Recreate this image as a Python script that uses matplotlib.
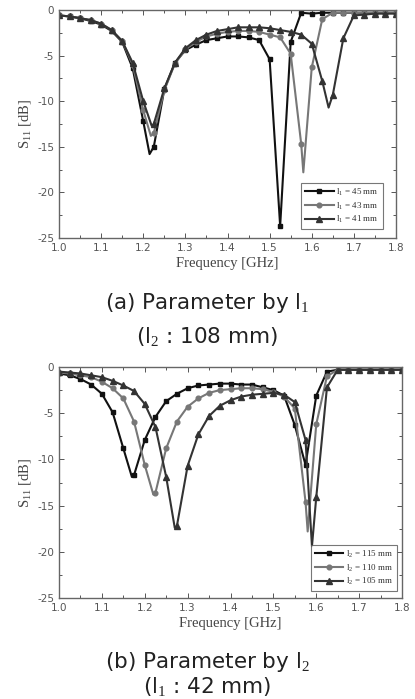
import matplotlib
matplotlib.use("Agg")
import matplotlib.pyplot as plt
import numpy as np
from matplotlib.ticker import MultipleLocator

# ---------------- data (a): parameter by l1 ----------------
freq_a45 = [1.0, 1.025, 1.05, 1.075, 1.1, 1.125, 1.15, 1.175, 1.2, 1.215, 1.225, 1.25, 1.275, 1.3,
            1.325, 1.35, 1.375, 1.4, 1.425, 1.45, 1.475, 1.5, 1.525, 1.55, 1.575, 1.6, 1.625, 1.65,
            1.675, 1.7, 1.725, 1.75, 1.775, 1.8]
s11_a45 = [-0.6, -0.7, -0.9, -1.2, -1.6, -2.3, -3.5, -6.4, -12.2, -15.8, -15.0, -8.7, -5.8, -4.4,
           -3.8, -3.3, -3.1, -2.9, -2.9, -3.0, -3.3, -5.4, -23.7, -3.5, -0.3, -0.4, -0.3, -0.3,
           -0.3, -0.3, -0.3, -0.3, -0.3, -0.3]

freq_a43 = [1.0, 1.025, 1.05, 1.075, 1.1, 1.125, 1.15, 1.175, 1.2, 1.218, 1.225, 1.25, 1.275, 1.3,
            1.325, 1.35, 1.375, 1.4, 1.425, 1.45, 1.475, 1.5, 1.525, 1.55, 1.575, 1.58, 1.6, 1.625,
            1.65, 1.675, 1.7, 1.725, 1.75, 1.775, 1.8]
s11_a43 = [-0.6, -0.7, -0.9, -1.1, -1.5, -2.2, -3.4, -6.0, -11.0, -13.8, -13.5, -8.8, -5.9, -4.3,
           -3.5, -2.9, -2.6, -2.4, -2.3, -2.3, -2.4, -2.7, -3.0, -4.8, -14.7, -17.8, -6.3, -1.0,
           -0.3, -0.3, -0.3, -0.3, -0.3, -0.3, -0.3]

freq_a41 = [1.0, 1.025, 1.05, 1.075, 1.1, 1.125, 1.15, 1.175, 1.2, 1.22, 1.225, 1.25, 1.275, 1.3,
            1.325, 1.35, 1.375, 1.4, 1.425, 1.45, 1.475, 1.5, 1.525, 1.55, 1.575, 1.6, 1.625, 1.64,
            1.65, 1.675, 1.7, 1.725, 1.75, 1.775, 1.8]
s11_a41 = [-0.6, -0.7, -0.9, -1.1, -1.5, -2.2, -3.4, -5.8, -10.0, -12.7, -12.5, -8.6, -5.8, -4.2,
           -3.3, -2.7, -2.3, -2.1, -1.9, -1.9, -1.9, -2.0, -2.2, -2.4, -2.7, -3.7, -7.8, -10.7,
           -9.3, -3.1, -0.6, -0.5, -0.4, -0.4, -0.4]

labels_a = ["l$_1$ = 45 mm", "l$_1$ = 43 mm", "l$_1$ = 41 mm"]

# ---------------- data (b): parameter by l2 ----------------
freq_b115 = [1.0, 1.025, 1.05, 1.075, 1.1, 1.125, 1.15, 1.17, 1.175, 1.2, 1.225, 1.25, 1.275, 1.3,
             1.325, 1.35, 1.375, 1.4, 1.425, 1.45, 1.475, 1.5, 1.525, 1.55, 1.575, 1.6, 1.625, 1.65,
             1.675, 1.7, 1.725, 1.75, 1.775, 1.8]
s11_b115 = [-0.7, -0.9, -1.3, -1.9, -2.9, -4.9, -8.8, -11.9, -11.7, -7.9, -5.4, -3.7, -2.9, -2.3,
            -2.0, -1.9, -1.8, -1.8, -1.9, -1.9, -2.2, -2.5, -3.1, -6.3, -10.6, -3.1, -0.5, -0.3,
            -0.3, -0.3, -0.3, -0.3, -0.3, -0.3]

freq_b110 = [1.0, 1.025, 1.05, 1.075, 1.1, 1.125, 1.15, 1.175, 1.2, 1.22, 1.225, 1.25, 1.275, 1.3,
             1.325, 1.35, 1.375, 1.4, 1.425, 1.45, 1.475, 1.5, 1.525, 1.55, 1.575, 1.58, 1.6, 1.625,
             1.65, 1.675, 1.7, 1.725, 1.75, 1.775, 1.8]
s11_b110 = [-0.6, -0.7, -0.9, -1.1, -1.6, -2.3, -3.4, -5.9, -10.6, -13.8, -13.6, -8.8, -5.9, -4.3,
            -3.4, -2.8, -2.5, -2.4, -2.3, -2.3, -2.4, -2.7, -3.2, -4.5, -14.6, -17.8, -6.2, -1.0,
            -0.3, -0.3, -0.3, -0.3, -0.3, -0.3, -0.3]

freq_b105 = [1.0, 1.025, 1.05, 1.075, 1.1, 1.125, 1.15, 1.175, 1.2, 1.225, 1.25, 1.27, 1.275, 1.3,
             1.325, 1.35, 1.375, 1.4, 1.425, 1.45, 1.475, 1.5, 1.525, 1.55, 1.575, 1.59, 1.6, 1.625,
             1.65, 1.675, 1.7, 1.725, 1.75, 1.775, 1.8]
s11_b105 = [-0.5, -0.6, -0.7, -0.9, -1.1, -1.5, -2.0, -2.6, -4.0, -6.5, -11.9, -17.4, -17.2, -10.7,
            -7.3, -5.3, -4.2, -3.6, -3.2, -3.0, -2.9, -2.8, -3.0, -3.8, -7.9, -19.4, -14.1, -2.2,
            -0.3, -0.3, -0.3, -0.3, -0.3, -0.3, -0.3]

labels_b = ["l$_2$ = 115 mm", "l$_2$ = 110 mm", "l$_2$ = 105 mm"]

captions_a = ["(a) Parameter by l$_1$", "(l$_2$ : 108 mm)"]
captions_b = ["(b) Parameter by l$_2$", "(l$_1$ : 42 mm)"]

x_ticks = [1.0, 1.1, 1.2, 1.3, 1.4, 1.5, 1.6, 1.7, 1.8]
y_ticks = [0, -5, -10, -15, -20, -25]

# ---------------- styling ----------------
W, H = 415, 699
fig = plt.figure(figsize=(W / 100, H / 100), dpi=100)
plt.rcParams['mathtext.fontset'] = 'custom'
plt.rcParams['mathtext.rm'] = 'Liberation Serif'

styles = [dict(color="#111111", marker="s", ms=3.4),
          dict(color="#777777", marker="o", ms=3.4),
          dict(color="#333333", marker="^", ms=3.8)]


def grid_mask(fr):
    return [abs(round(f / 0.025) * 0.025 - f) < 1e-6 for f in fr]


def draw(ax, series, labels, legend_box):
    for (fr, s), lab, st in zip(series, labels, styles):
        ax.plot(fr, s, color=st["color"], lw=1.5, marker=st["marker"], ms=st["ms"],
                markevery=grid_mask(fr), label=lab)
    ax.set_xlim(1.0, 1.8)
    ax.set_ylim(-25, 0)
    ax.set_xticks(x_ticks)
    ax.set_xticklabels([f"{v:.1f}" for v in x_ticks])
    ax.set_yticks(y_ticks)
    ax.set_yticklabels([str(v) for v in y_ticks])
    ax.xaxis.set_minor_locator(MultipleLocator(0.05))
    ax.yaxis.set_minor_locator(MultipleLocator(2.5))
    ax.tick_params(which="both", direction="in", top=True, right=True, colors="#555555",
                   labelsize=7.5, labelcolor="#555555", width=0.7)
    ax.tick_params(which="major", length=3.5)
    ax.tick_params(which="minor", length=2)
    for sp in ax.spines.values():
        sp.set_color("#666666")
        sp.set_linewidth(1.0)
    ax.set_xlabel("Frequency [GHz]", family="Liberation Serif", fontsize=10.5, color="#444444",
                  labelpad=3)
    ax.set_ylabel("S$_{11}$ [dB]", family="Liberation Serif", fontsize=10.5, color="#444444",
                  labelpad=2)
    leg = ax.legend(loc="lower right", bbox_to_anchor=legend_box,
                    prop={"family": "Liberation Serif", "size": 6.5},
                    frameon=True, fancybox=False, edgecolor="#555555", handlelength=3.2,
                    borderpad=0.4, labelspacing=0.25, handletextpad=0.3, borderaxespad=0)
    leg.get_frame().set_linewidth(0.8)
    for t in leg.get_texts():
        t.set_color("#333333")


ax1 = fig.add_axes([59 / W, 1 - 238 / H, (396 - 59) / W, (238 - 10) / H])
draw(ax1, [(freq_a45, s11_a45), (freq_a43, s11_a43), (freq_a41, s11_a41)], labels_a,
     (0.96, 0.04))

ax2 = fig.add_axes([59 / W, 1 - 598 / H, (402 - 59) / W, (598 - 367) / H])
draw(ax2, [(freq_b115, s11_b115), (freq_b110, s11_b110), (freq_b105, s11_b105)], labels_b,
     (0.985, 0.03))

cap_kw = dict(ha="center", va="center", fontsize=15.5, color="#222222", family="DejaVu Sans")
fig.text(207 / W, 1 - 303 / H, captions_a[0], **cap_kw)
fig.text(207 / W, 1 - 337 / H, captions_a[1], **cap_kw)
fig.text(207 / W, 1 - 662 / H, captions_b[0], **cap_kw)
fig.text(207 / W, 1 - 687 / H, captions_b[1], **cap_kw)

fig.savefig("out.png", dpi=100)
